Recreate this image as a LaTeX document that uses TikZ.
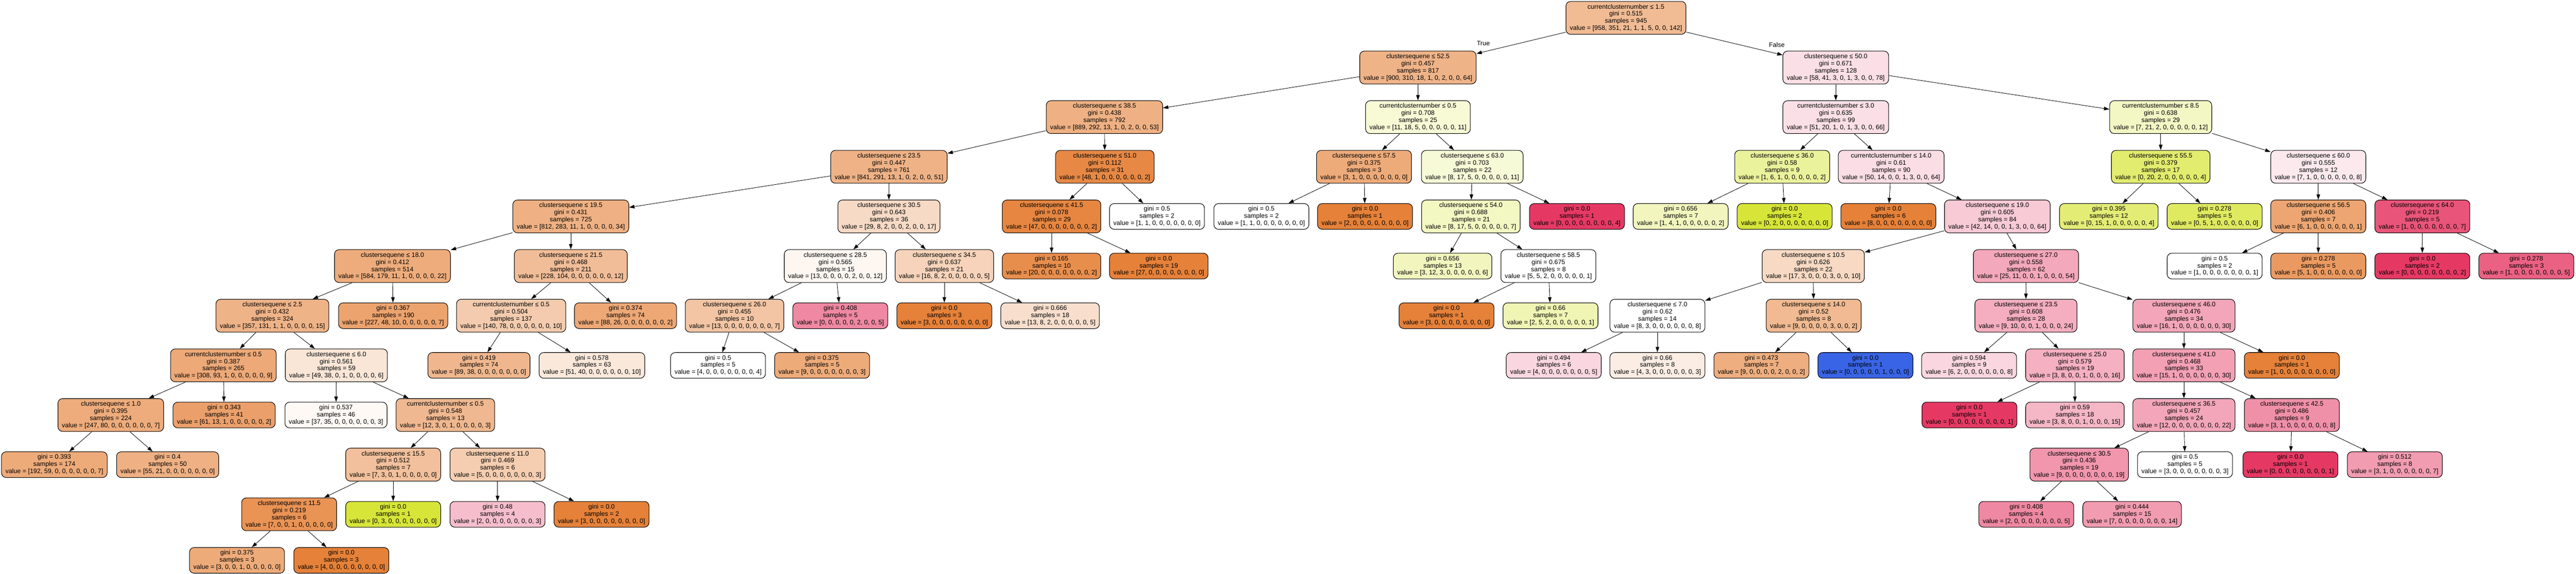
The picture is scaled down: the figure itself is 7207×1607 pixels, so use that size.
\documentclass[tikz,border=0pt]{standalone}
\usepackage{fontspec}
\setmainfont{Liberation Sans}
\usepackage{tikz}
\usetikzlibrary{arrows.meta}
\tikzset{>={Triangle[length=15pt,width=10pt]}}
\definecolor{classorange}{HTML}{E58139}
\definecolor{classlime}{HTML}{D7E539}
\definecolor{classblue}{HTML}{3964E5}
\definecolor{classrose}{HTML}{E53964}
\tikzset{
  box/.style={draw=black, line width=1.5pt, rounded corners=13pt, align=center, inner xsep=11pt, inner ysep=0pt, font=\fontsize{18}{20}\selectfont},
  split/.style={box, minimum height=92pt},
  leaf/.style={box, minimum height=72pt},
  link/.style={->, line width=1.2pt},
  lbl/.style={font=\fontsize{18}{20}\selectfont}
}
\newcommand{\splittext}[4]{#1\\gini = #2\\samples = #3\\value = [#4]}
\newcommand{\leaftext}[3]{gini = #1\\samples = #2\\value = [#3]}

\begin{document}
\begin{tikzpicture}[x=1pt, y=-1pt]
            \useasboundingbox (0,0) rectangle (7207,1607);
            % root and the True side
            \node[split, fill=classorange!54] (n0) at (4549,50) {\splittext{currentclusternumber ≤ 1.5}{0.515}{945}{958, 351, 21, 1, 1, 5, 0, 0, 142}};
            \node[split, fill=classorange!60] (n1) at (3967,189) {\splittext{clustersequene ≤ 52.5}{0.457}{817}{900, 310, 18, 1, 0, 2, 0, 0, 64}};
            \node[split, fill=classorange!62] (n2) at (3090,328) {\splittext{clustersequene ≤ 38.5}{0.438}{792}{889, 292, 13, 1, 0, 2, 0, 0, 53}};
            \node[split, fill=classorange!61] (n3) at (2487,467) {\splittext{clustersequene ≤ 23.5}{0.447}{761}{841, 291, 13, 1, 0, 2, 0, 0, 51}};
            \node[split, fill=classorange!62] (n4) at (1597,606) {\splittext{clustersequene ≤ 19.5}{0.431}{725}{812, 283, 11, 1, 0, 0, 0, 0, 34}};
            \node[split, fill=classorange!66] (n5) at (1098,745) {\splittext{clustersequene ≤ 18.0}{0.412}{514}{584, 179, 11, 1, 0, 0, 0, 0, 22}};
            \node[split, fill=classorange!60] (n6) at (762,884) {\splittext{clustersequene ≤ 2.5}{0.432}{324}{357, 131, 1, 1, 0, 0, 0, 0, 15}};
            \node[split, fill=classorange!68] (n7) at (625,1023) {\splittext{currentclusternumber ≤ 0.5}{0.387}{265}{308, 93, 1, 0, 0, 0, 0, 0, 9}};
            \node[split, fill=classorange!66] (n8) at (310,1162) {\splittext{clustersequene ≤ 1.0}{0.395}{224}{247, 80, 0, 0, 0, 0, 0, 0, 7}};
            \node[leaf, fill=classorange!67] (n9) at (152,1301) {\leaftext{0.393}{174}{192, 59, 0, 0, 0, 0, 0, 0, 7}};
            \node[leaf, fill=classorange!62] (n10) at (469,1301) {\leaftext{0.4}{50}{55, 21, 0, 0, 0, 0, 0, 0, 0}};
            \node[leaf, fill=classorange!75] (n11) at (627,1162) {\leaftext{0.343}{41}{61, 13, 1, 0, 0, 0, 0, 0, 2}};
            \node[split, fill=classorange!20] (n12) at (941,1023) {\splittext{clustersequene ≤ 6.0}{0.561}{59}{49, 38, 0, 1, 0, 0, 0, 0, 6}};
            \node[leaf, fill=classorange!5] (n13) at (940,1162) {\leaftext{0.537}{46}{37, 35, 0, 0, 0, 0, 0, 0, 3}};
            \node[split, fill=classorange!56] (n14) at (1246,1162) {\splittext{currentclusternumber ≤ 0.5}{0.548}{13}{12, 3, 0, 1, 0, 0, 0, 0, 3}};
            \node[split, fill=classorange!50] (n15) at (1100,1301) {\splittext{clustersequene ≤ 15.5}{0.512}{7}{7, 3, 0, 1, 0, 0, 0, 0, 0}};
            \node[split, fill=classorange!86] (n16) at (809,1440) {\splittext{clustersequene ≤ 11.5}{0.219}{6}{7, 0, 0, 1, 0, 0, 0, 0, 0}};
            \node[leaf, fill=classorange!67] (n17) at (663,1569) {\leaftext{0.375}{3}{3, 0, 0, 1, 0, 0, 0, 0, 0}};
            \node[leaf, fill=classorange] (n18) at (955,1569) {\leaftext{0.0}{3}{4, 0, 0, 0, 0, 0, 0, 0, 0}};
            \node[leaf, fill=classlime] (n19) at (1100,1440) {\leaftext{0.0}{1}{0, 3, 0, 0, 0, 0, 0, 0, 0}};
            \node[split, fill=classorange!40] (n20) at (1392,1301) {\splittext{clustersequene ≤ 11.0}{0.469}{6}{5, 0, 0, 0, 0, 0, 0, 0, 3}};
            \node[leaf, fill=classrose!33] (n21) at (1392,1440) {\leaftext{0.48}{4}{2, 0, 0, 0, 0, 0, 0, 0, 3}};
            \node[leaf, fill=classorange] (n22) at (1683,1440) {\leaftext{0.0}{2}{3, 0, 0, 0, 0, 0, 0, 0, 0}};
            \node[leaf, fill=classorange!73] (n23) at (1100,884) {\leaftext{0.367}{190}{227, 48, 10, 0, 0, 0, 0, 0, 7}};
            \node[split, fill=classorange!52] (n24) at (1597,745) {\splittext{clustersequene ≤ 21.5}{0.468}{211}{228, 104, 0, 0, 0, 0, 0, 0, 12}};
            \node[split, fill=classorange!41] (n25) at (1430,884) {\splittext{currentclusternumber ≤ 0.5}{0.504}{137}{140, 78, 0, 0, 0, 0, 0, 0, 10}};
            \node[leaf, fill=classorange!57] (n26) at (1340,1023) {\leaftext{0.419}{74}{89, 38, 0, 0, 0, 0, 0, 0, 0}};
            \node[leaf, fill=classorange!18] (n27) at (1656,1023) {\leaftext{0.578}{63}{51, 40, 0, 0, 0, 0, 0, 0, 10}};
            \node[leaf, fill=classorange!69] (n28) at (1750,884) {\leaftext{0.374}{74}{88, 26, 0, 0, 0, 0, 0, 0, 2}};
            \node[split, fill=classorange!29] (n29) at (2487,606) {\splittext{clustersequene ≤ 30.5}{0.643}{36}{29, 8, 2, 0, 0, 2, 0, 0, 17}};
            \node[split, fill=classorange!7] (n30) at (2337,745) {\splittext{clustersequene ≤ 28.5}{0.565}{15}{13, 0, 0, 0, 0, 2, 0, 0, 12}};
            \node[split, fill=classorange!46] (n31) at (2055,884) {\splittext{clustersequene ≤ 26.0}{0.455}{10}{13, 0, 0, 0, 0, 0, 0, 0, 7}};
            \node[leaf, fill=white] (n32) at (2009,1023) {\leaftext{0.5}{5}{4, 0, 0, 0, 0, 0, 0, 0, 4}};
            \node[leaf, fill=classorange!67] (n33) at (2300,1023) {\leaftext{0.375}{5}{9, 0, 0, 0, 0, 0, 0, 0, 3}};
            \node[leaf, fill=classrose!60] (n34) at (2351,884) {\leaftext{0.408}{5}{0, 0, 0, 0, 0, 2, 0, 0, 5}};
            \node[split, fill=classorange!35] (n35) at (2642,745) {\splittext{clustersequene ≤ 34.5}{0.637}{21}{16, 8, 2, 0, 0, 0, 0, 0, 5}};
            \node[leaf, fill=classorange] (n36) at (2642,884) {\leaftext{0.0}{3}{3, 0, 0, 0, 0, 0, 0, 0, 0}};
            \node[leaf, fill=classorange!25] (n37) at (2938,884) {\leaftext{0.666}{18}{13, 8, 2, 0, 0, 0, 0, 0, 5}};
            \node[split, fill=classorange!94] (n38) at (3091,467) {\splittext{clustersequene ≤ 51.0}{0.112}{31}{48, 1, 0, 0, 0, 0, 0, 0, 2}};
            \node[split, fill=classorange!96] (n39) at (2942,606) {\splittext{clustersequene ≤ 41.5}{0.078}{29}{47, 0, 0, 0, 0, 0, 0, 0, 2}};
            \node[leaf, fill=classorange!90] (n40) at (2942,745) {\leaftext{0.165}{10}{20, 0, 0, 0, 0, 0, 0, 0, 2}};
            \node[leaf, fill=classorange] (n41) at (3242,745) {\leaftext{0.0}{19}{27, 0, 0, 0, 0, 0, 0, 0, 0}};
            \node[leaf, fill=white] (n42) at (3237,606) {\leaftext{0.5}{2}{1, 1, 0, 0, 0, 0, 0, 0, 0}};
            \node[split, fill=classlime!21] (n43) at (3967,328) {\splittext{currentclusternumber ≤ 0.5}{0.708}{25}{11, 18, 5, 0, 0, 0, 0, 0, 11}};
            \node[split, fill=classorange!67] (n44) at (3816,467) {\splittext{clustersequene ≤ 57.5}{0.375}{3}{3, 1, 0, 0, 0, 0, 0, 0, 0}};
            \node[leaf, fill=white] (n45) at (3529,606) {\leaftext{0.5}{2}{1, 1, 0, 0, 0, 0, 0, 0, 0}};
            \node[leaf, fill=classorange] (n46) at (3819,606) {\leaftext{0.0}{1}{2, 0, 0, 0, 0, 0, 0, 0, 0}};
            \node[split, fill=classlime!20] (n47) at (4119,467) {\splittext{clustersequene ≤ 63.0}{0.703}{22}{8, 17, 5, 0, 0, 0, 0, 0, 11}};
            \node[split, fill=classlime!31] (n48) at (4115,606) {\splittext{clustersequene ≤ 54.0}{0.688}{21}{8, 17, 5, 0, 0, 0, 0, 0, 7}};
            \node[leaf, fill=classlime!33] (n49) at (4036,745) {\leaftext{0.656}{13}{3, 12, 3, 0, 0, 0, 0, 0, 6}};
            \node[split, fill=white] (n50) at (4332,745) {\splittext{clustersequene ≤ 58.5}{0.675}{8}{5, 5, 2, 0, 0, 0, 0, 0, 1}};
            \node[leaf, fill=classorange] (n51) at (4047,884) {\leaftext{0.0}{1}{3, 0, 0, 0, 0, 0, 0, 0, 0}};
            \node[leaf, fill=classlime!38] (n52) at (4338,884) {\leaftext{0.66}{7}{2, 5, 2, 0, 0, 0, 0, 0, 1}};
            \node[leaf, fill=classrose] (n53) at (4412,606) {\leaftext{0.0}{1}{0, 0, 0, 0, 0, 0, 0, 0, 4}};
            % the False side
            \node[split, fill=classrose!16] (n54) at (5136,189) {\splittext{clustersequene ≤ 50.0}{0.671}{128}{58, 41, 3, 0, 1, 3, 0, 0, 78}};
            \node[split, fill=classrose!16] (n55) at (5136,328) {\splittext{currentclusternumber ≤ 3.0}{0.635}{99}{51, 20, 1, 0, 1, 3, 0, 0, 66}};
            \node[split, fill=classlime!50] (n56) at (4986,467) {\splittext{clustersequene ≤ 36.0}{0.58}{9}{1, 6, 1, 0, 0, 0, 0, 0, 2}};
            \node[leaf, fill=classlime!33] (n57) at (4702,606) {\leaftext{0.656}{7}{1, 4, 1, 0, 0, 0, 0, 0, 2}};
            \node[leaf, fill=classlime] (n58) at (4993,606) {\leaftext{0.0}{2}{0, 2, 0, 0, 0, 0, 0, 0, 0}};
            \node[split, fill=classrose!17] (n59) at (5291,467) {\splittext{currentclusternumber ≤ 14.0}{0.61}{90}{50, 14, 0, 0, 1, 3, 0, 0, 64}};
            \node[leaf, fill=classorange] (n60) at (5283,606) {\leaftext{0.0}{6}{8, 0, 0, 0, 0, 0, 0, 0, 0}};
            \node[split, fill=classrose!27] (n61) at (5588,606) {\splittext{clustersequene ≤ 19.0}{0.605}{84}{42, 14, 0, 0, 1, 3, 0, 0, 64}};
            \node[split, fill=classorange!30] (n62) at (5073,745) {\splittext{clustersequene ≤ 10.5}{0.626}{22}{17, 3, 0, 0, 0, 3, 0, 0, 10}};
            \node[split, fill=white] (n63) at (4637,884) {\splittext{clustersequene ≤ 7.0}{0.62}{14}{8, 3, 0, 0, 0, 0, 0, 0, 8}};
            \node[leaf, fill=classrose!20] (n64) at (4347,1023) {\leaftext{0.494}{6}{4, 0, 0, 0, 0, 0, 0, 0, 5}};
            \node[leaf, fill=classorange!14] (n65) at (4637,1023) {\leaftext{0.66}{8}{4, 3, 0, 0, 0, 0, 0, 0, 3}};
            \node[split, fill=classorange!55] (n66) at (5074,884) {\splittext{clustersequene ≤ 14.0}{0.52}{8}{9, 0, 0, 0, 0, 3, 0, 0, 2}};
            \node[leaf, fill=classorange!64] (n67) at (4928,1023) {\leaftext{0.473}{7}{9, 0, 0, 0, 0, 2, 0, 0, 2}};
            \node[leaf, fill=classblue] (n68) at (5219,1023) {\leaftext{0.0}{1}{0, 0, 0, 0, 0, 1, 0, 0, 0}};
            \node[split, fill=classrose!44] (n69) at (5668,745) {\splittext{clustersequene ≤ 27.0}{0.558}{62}{25, 11, 0, 0, 1, 0, 0, 0, 54}};
            \node[split, fill=classrose!41] (n70) at (5668,884) {\splittext{clustersequene ≤ 23.5}{0.608}{28}{9, 10, 0, 0, 1, 0, 0, 0, 24}};
            \node[leaf, fill=classrose!20] (n71) at (5509,1023) {\leaftext{0.594}{9}{6, 2, 0, 0, 0, 0, 0, 0, 8}};
            \node[split, fill=classrose!40] (n72) at (5805,1023) {\splittext{clustersequene ≤ 25.0}{0.579}{19}{3, 8, 0, 0, 1, 0, 0, 0, 16}};
            \node[leaf, fill=classrose] (n73) at (5510,1162) {\leaftext{0.0}{1}{0, 0, 0, 0, 0, 0, 0, 0, 1}};
            \node[leaf, fill=classrose!37] (n74) at (5805,1162) {\leaftext{0.59}{18}{3, 8, 0, 0, 1, 0, 0, 0, 15}};
            \node[split, fill=classrose!45] (n75) at (6110,884) {\splittext{clustersequene ≤ 46.0}{0.476}{34}{16, 1, 0, 0, 0, 0, 0, 0, 30}};
            \node[split, fill=classrose!48] (n76) at (6110,1023) {\splittext{clustersequene ≤ 41.0}{0.468}{33}{15, 1, 0, 0, 0, 0, 0, 0, 30}};
            \node[split, fill=classrose!45] (n77) at (6110,1162) {\splittext{clustersequene ≤ 36.5}{0.457}{24}{12, 0, 0, 0, 0, 0, 0, 0, 22}};
            \node[split, fill=classrose!53] (n78) at (5817,1301) {\splittext{clustersequene ≤ 30.5}{0.436}{19}{9, 0, 0, 0, 0, 0, 0, 0, 19}};
            \node[leaf, fill=classrose!60] (n79) at (5669,1440) {\leaftext{0.408}{4}{2, 0, 0, 0, 0, 0, 0, 0, 5}};
            \node[leaf, fill=classrose!50] (n80) at (5965,1440) {\leaftext{0.444}{15}{7, 0, 0, 0, 0, 0, 0, 0, 14}};
            \node[leaf, fill=white] (n81) at (6113,1301) {\leaftext{0.5}{5}{3, 0, 0, 0, 0, 0, 0, 0, 3}};
            \node[split, fill=classrose!56] (n82) at (6412,1162) {\splittext{clustersequene ≤ 42.5}{0.486}{9}{3, 1, 0, 0, 0, 0, 0, 0, 8}};
            \node[leaf, fill=classrose] (n83) at (6408,1301) {\leaftext{0.0}{1}{0, 0, 0, 0, 0, 0, 0, 0, 1}};
            \node[leaf, fill=classrose!50] (n84) at (6700,1301) {\leaftext{0.512}{8}{3, 1, 0, 0, 0, 0, 0, 0, 7}};
            \node[leaf, fill=classorange] (n85) at (6412,1023) {\leaftext{0.0}{1}{1, 0, 0, 0, 0, 0, 0, 0, 0}};
            \node[split, fill=classlime!30] (n86) at (6045,328) {\splittext{currentclusternumber ≤ 8.5}{0.638}{29}{7, 21, 2, 0, 0, 0, 0, 0, 12}};
            \node[split, fill=classlime!73] (n87) at (6045,467) {\splittext{clustersequene ≤ 55.5}{0.379}{17}{0, 20, 2, 0, 0, 0, 0, 0, 4}};
            \node[leaf, fill=classlime!69] (n88) at (5900,606) {\leaftext{0.395}{12}{0, 15, 1, 0, 0, 0, 0, 0, 4}};
            \node[leaf, fill=classlime!80] (n89) at (6196,606) {\leaftext{0.278}{5}{0, 5, 1, 0, 0, 0, 0, 0, 0}};
            \node[split, fill=classrose!11] (n90) at (6486,467) {\splittext{clustersequene ≤ 60.0}{0.555}{12}{7, 1, 0, 0, 0, 0, 0, 0, 8}};
            \node[split, fill=classorange!71] (n91) at (6486,606) {\splittext{clustersequene ≤ 56.5}{0.406}{7}{6, 1, 0, 0, 0, 0, 0, 0, 1}};
            \node[leaf, fill=white] (n92) at (6196,745) {\leaftext{0.5}{2}{1, 0, 0, 0, 0, 0, 0, 0, 1}};
            \node[leaf, fill=classorange!80] (n93) at (6486,745) {\leaftext{0.278}{5}{5, 1, 0, 0, 0, 0, 0, 0, 0}};
            \node[split, fill=classrose!86] (n94) at (6777,606) {\splittext{clustersequene ≤ 64.0}{0.219}{5}{1, 0, 0, 0, 0, 0, 0, 0, 7}};
            \node[leaf, fill=classrose] (n95) at (6777,745) {\leaftext{0.0}{2}{0, 0, 0, 0, 0, 0, 0, 0, 2}};
            \node[leaf, fill=classrose!80] (n96) at (7068,745) {\leaftext{0.278}{3}{1, 0, 0, 0, 0, 0, 0, 0, 5}};
            \node[lbl] (truelbl) at (4150,122) {True};
            \node[lbl] (falselbl) at (4971,125) {False};
            % edges
            \draw[link] (n0) -- (n1); \draw[link] (n0) -- (n54);
            \draw[link] (n1) -- (n2); \draw[link] (n1) -- (n43);
            \draw[link] (n2) -- (n3); \draw[link] (n2) -- (n38);
            \draw[link] (n3) -- (n4); \draw[link] (n3) -- (n29);
            \draw[link] (n4) -- (n5); \draw[link] (n4) -- (n24);
            \draw[link] (n5) -- (n6); \draw[link] (n5) -- (n23);
            \draw[link] (n6) -- (n7); \draw[link] (n6) -- (n12);
            \draw[link] (n7) -- (n8); \draw[link] (n7) -- (n11);
            \draw[link] (n8) -- (n9); \draw[link] (n8) -- (n10);
            \draw[link] (n12) -- (n13); \draw[link] (n12) -- (n14);
            \draw[link] (n14) -- (n15); \draw[link] (n14) -- (n20);
            \draw[link] (n15) -- (n16); \draw[link] (n15) -- (n19);
            \draw[link] (n16) -- (n17); \draw[link] (n16) -- (n18);
            \draw[link] (n20) -- (n21); \draw[link] (n20) -- (n22);
            \draw[link] (n24) -- (n25); \draw[link] (n24) -- (n28);
            \draw[link] (n25) -- (n26); \draw[link] (n25) -- (n27);
            \draw[link] (n29) -- (n30); \draw[link] (n29) -- (n35);
            \draw[link] (n30) -- (n31); \draw[link] (n30) -- (n34);
            \draw[link] (n31) -- (n32); \draw[link] (n31) -- (n33);
            \draw[link] (n35) -- (n36); \draw[link] (n35) -- (n37);
            \draw[link] (n38) -- (n39); \draw[link] (n38) -- (n42);
            \draw[link] (n39) -- (n40); \draw[link] (n39) -- (n41);
            \draw[link] (n43) -- (n44); \draw[link] (n43) -- (n47);
            \draw[link] (n44) -- (n45); \draw[link] (n44) -- (n46);
            \draw[link] (n47) -- (n48); \draw[link] (n47) -- (n53);
            \draw[link] (n48) -- (n49); \draw[link] (n48) -- (n50);
            \draw[link] (n50) -- (n51); \draw[link] (n50) -- (n52);
            \draw[link] (n54) -- (n55); \draw[link] (n54) -- (n86);
            \draw[link] (n55) -- (n56); \draw[link] (n55) -- (n59);
            \draw[link] (n56) -- (n57); \draw[link] (n56) -- (n58);
            \draw[link] (n59) -- (n60); \draw[link] (n59) -- (n61);
            \draw[link] (n61) -- (n62); \draw[link] (n61) -- (n69);
            \draw[link] (n62) -- (n63); \draw[link] (n62) -- (n66);
            \draw[link] (n63) -- (n64); \draw[link] (n63) -- (n65);
            \draw[link] (n66) -- (n67); \draw[link] (n66) -- (n68);
            \draw[link] (n69) -- (n70); \draw[link] (n69) -- (n75);
            \draw[link] (n70) -- (n71); \draw[link] (n70) -- (n72);
            \draw[link] (n72) -- (n73); \draw[link] (n72) -- (n74);
            \draw[link] (n75) -- (n76); \draw[link] (n75) -- (n85);
            \draw[link] (n76) -- (n77); \draw[link] (n76) -- (n82);
            \draw[link] (n77) -- (n78); \draw[link] (n77) -- (n81);
            \draw[link] (n78) -- (n79); \draw[link] (n78) -- (n80);
            \draw[link] (n82) -- (n83); \draw[link] (n82) -- (n84);
            \draw[link] (n86) -- (n87); \draw[link] (n86) -- (n90);
            \draw[link] (n87) -- (n88); \draw[link] (n87) -- (n89);
            \draw[link] (n90) -- (n91); \draw[link] (n90) -- (n94);
            \draw[link] (n91) -- (n92); \draw[link] (n91) -- (n93);
            \draw[link] (n94) -- (n95); \draw[link] (n94) -- (n96);
        \end{tikzpicture}
\end{document}
